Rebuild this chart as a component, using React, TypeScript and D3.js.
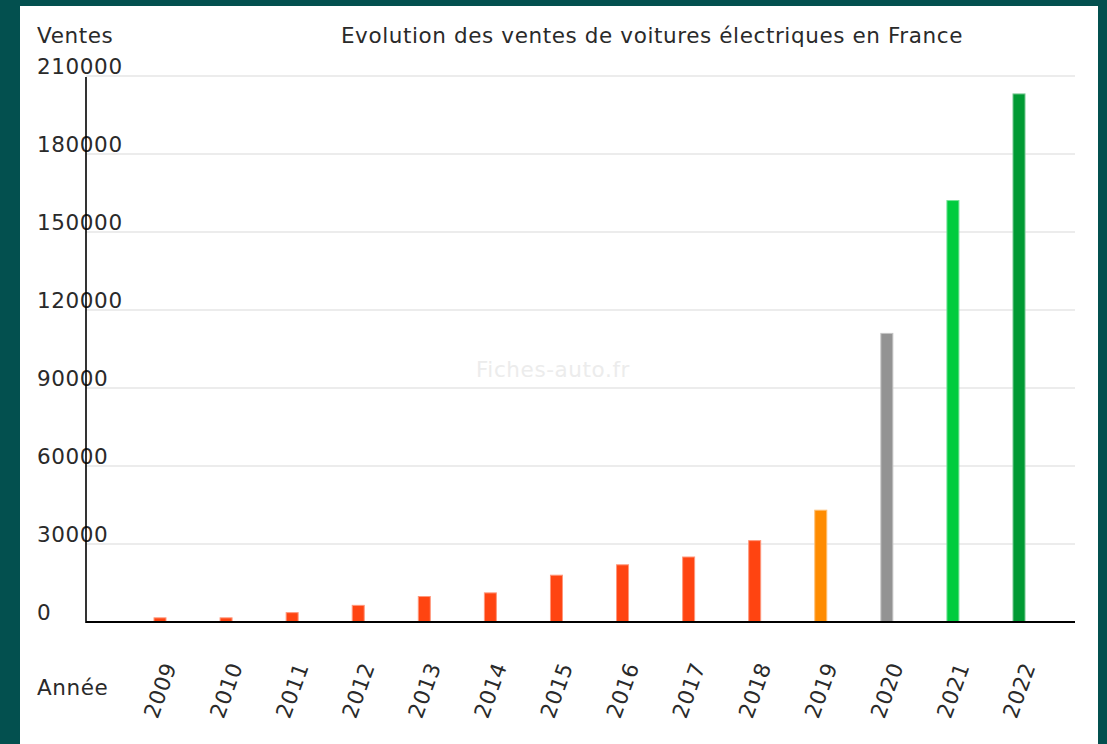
import React, { useEffect, useRef } from 'react';
import * as d3 from 'd3';

const years = ['2009', '2010', '2011', '2012', '2013', '2014', '2015', '2016', '2017', '2018', '2019', '2020', '2021', '2022'];
const sales = [1600, 1600, 3600, 6400, 9800, 11200, 18000, 22000, 25000, 31300, 43000, 111000, 162100, 203100];
const barColors = ['#ff4411', '#ff4411', '#ff4411', '#ff4411', '#ff4411', '#ff4411', '#ff4411', '#ff4411', '#ff4411', '#ff4411', '#ff8c00', '#939393', '#00cc3e', '#009a33'];
const yTicks = [0, 30000, 60000, 90000, 120000, 150000, 180000, 210000];

function App() {
  const svgRef = useRef<SVGSVGElement>(null);

  useEffect(() => {
    const svg = d3.select(svgRef.current);
    svg.selectAll('*').remove();

    const width = 1107;
    const height = 744;
    const font = '"DejaVu Sans", Verdana, sans-serif';
    const ink = '#2a2a2a';

    svg.attr('width', width).attr('height', height);

    // frame
    svg.append('rect').attr('width', width).attr('height', height).attr('fill', '#03504f');
    svg.append('rect').attr('x', 20).attr('y', 6).attr('width', 1078).attr('height', height - 6).attr('fill', '#ffffff');

    const x0 = 86;
    const x1 = 1075;
    const y = d3.scaleLinear().domain([0, 210000]).range([622, 76]);
    const x = d3.scalePoint().domain(years).range([160, 1019]);
    const barW = 12;

    const label = (sel: any) => sel
      .style('font-family', font).style('font-size', '21.5px')
      .style('letter-spacing', '0.6px')
      .style('fill', ink);

    // watermark
    svg.append('text')
      .attr('x', 553).attr('y', 377)
      .attr('text-anchor', 'middle')
      .call(label)
      .style('fill', '#ececec')
      .text('Fiches-auto.fr');

    // grid
    svg.append('g').selectAll('line')
      .data(yTicks.filter(d => d > 0))
      .enter().append('line')
      .attr('x1', x0).attr('x2', x1)
      .attr('y1', d => y(d)).attr('y2', d => y(d))
      .attr('stroke', '#e6e6e6').attr('stroke-width', 1.5);

    // y labels
    svg.append('g').selectAll('text')
      .data(yTicks)
      .enter().append('text')
      .attr('x', 37).attr('y', d => y(d) - 2)
      .call(label)
      .text(d => String(d));

    // bars
    svg.append('g').selectAll('rect')
      .data(sales)
      .enter().append('rect')
      .attr('x', (d, i) => (x(years[i]) as number) - barW / 2)
      .attr('y', d => y(d))
      .attr('width', barW)
      .attr('height', d => y(0) - y(d))
      .attr('fill', (d, i) => barColors[i])
      .attr('stroke', (d, i) => d3.interpolateRgb(barColors[i], '#ffffff')(0.45))
      .attr('stroke-width', 1);

    // axes
    svg.append('line')
      .attr('x1', x0).attr('x2', x0).attr('y1', 77).attr('y2', 623)
      .attr('stroke', '#000').attr('stroke-width', 1.6);
    svg.append('line')
      .attr('x1', x0).attr('x2', x1).attr('y1', 622).attr('y2', 622)
      .attr('stroke', '#000').attr('stroke-width', 2);

    // year labels
    svg.append('g').selectAll('text')
      .data(years)
      .enter().append('text')
      .attr('transform', d => `translate(${(x(d) as number) + 17},666) rotate(-70)`)
      .attr('text-anchor', 'end')
      .call(label)
      .text(d => d);

    // titles
    svg.append('text')
      .attr('x', 37).attr('y', 43)
      .call(label)
      .text('Ventes');
    svg.append('text')
      .attr('x', 37).attr('y', 695)
      .call(label)
      .text('Année');
    svg.append('text')
      .attr('x', 652).attr('y', 43)
      .attr('text-anchor', 'middle')
      .call(label)
      .text('Evolution des ventes de voitures électriques en France');
  }, []);

  return (
    <>
      <style>{'body{margin:0}'}</style>
      <svg ref={svgRef} style={{ display: 'block' }}></svg>
    </>
  );
}

export default App;
